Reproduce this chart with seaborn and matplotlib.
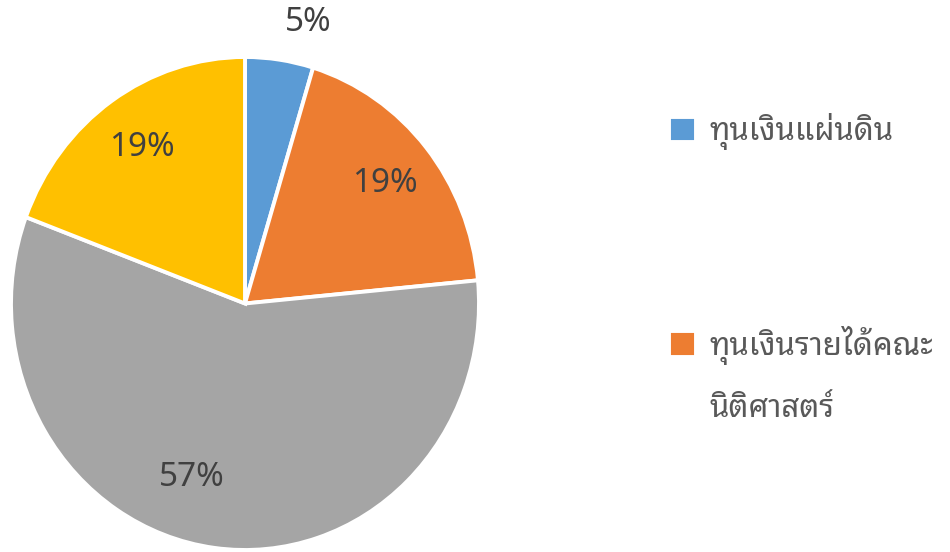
import matplotlib
matplotlib.use("Agg")
import matplotlib.pyplot as plt
import numpy as np
import seaborn as sns

# สัดส่วนแหล่งทุน (อ่านจากภาพ)
categories = ["ทุนเงินแผ่นดิน", "ทุนเงินรายได้คณะ\nนิติศาสตร์", "ทุนอื่น ก", "ทุนอื่น ข"]
shares = [4.7, 18.8, 57.2, 19.3]
colors = ["#5B9BD5", "#ED7D31", "#A5A5A5", "#FFC000"]

sns.set_theme(style="white")
plt.rcParams["font.family"] = ["Noto Sans Thai Looped", "Noto Sans", "DejaVu Sans"]

fig = plt.figure(figsize=(9.5, 5.52), dpi=100)
ax = fig.add_axes([11 / 950, 2 / 552, 468 / 950, 493 / 552])

wedges, texts, autotexts = ax.pie(
    shares,
    colors=sns.color_palette(colors),
    startangle=90,
    counterclock=False,
    autopct="%.0f%%",
    pctdistance=0.77,
    wedgeprops=dict(edgecolor="white", linewidth=2.8),
    textprops=dict(color="#404040", fontsize=24, family=["Noto Sans", "DejaVu Sans"]),
)
ax.set_aspect("auto")
ax.set_xlim(-1, 1)
ax.set_ylim(-1, 1)


# วางป้ายตามสัดส่วนมุมภายในชิ้น (นับตามเข็มนาฬิกา) และระยะจากจุดศูนย์กลาง
def place_label(i, frac, r):
    w = wedges[i]
    ang = np.deg2rad(w.theta2 - frac * (w.theta2 - w.theta1))
    autotexts[i].set_position((r * np.cos(ang), r * np.sin(ang)))


place_label(0, 0.79, 1.17)   # ชิ้นเล็ก วางไว้นอกวงกลม
place_label(2, 0.55, 0.74)

label_size = 22.5
first_lines = [c.split("\n")[0] for c in categories[:2]]
leg = ax.legend(
    wedges[:2],
    first_lines,
    loc="upper left",
    bbox_to_anchor=(669 / 950, 1 - 113 / 552),
    bbox_transform=fig.transFigure,
    frameon=False,
    borderpad=0,
    borderaxespad=0,
    prop=dict(family=["Noto Sans Thai Looped"], size=label_size),
    labelcolor="#595959",
    handlelength=0.87,
    handleheight=0.87,
    handletextpad=0.42,
    labelspacing=5.62,
)

# บรรทัดที่สองของรายการที่สองในคำอธิบาย
fig.canvas.draw()
t2 = leg.get_texts()[1]
bb = t2.get_window_extent()
x0, y0 = fig.transFigure.inverted().transform((bb.x0, bb.y0))
fig.text(
    x0, y0 - 59 / 552, categories[1].split("\n")[1],
    family=["Noto Sans Thai Looped"], size=label_size, color="#595959",
    ha="left", va="bottom",
)

fig.savefig("out.png", dpi=100)
